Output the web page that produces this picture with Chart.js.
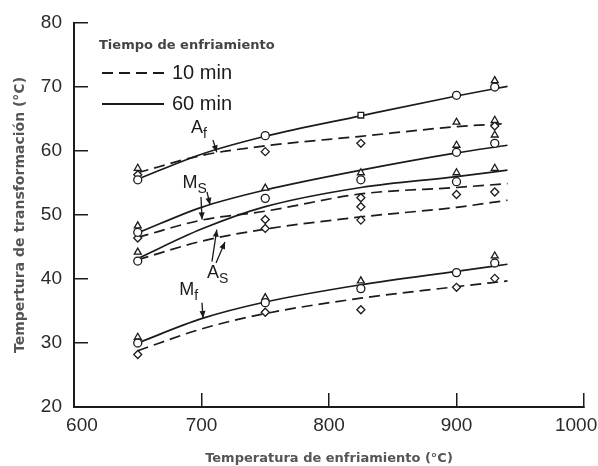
<!DOCTYPE html>
<html>
<head>
<meta charset="utf-8">
<script src="https://cdn.jsdelivr.net/npm/chart.js@4"></script>
<style>
  html, body { margin: 0; padding: 0; background: #fff; }
  #wrap { width: 598px; height: 466px; }
</style>
</head>
<body>
<div id="wrap"><canvas id="grafica" width="598" height="466"></canvas></div>
<script>
// temperaturas de enfriamiento donde se leen las curvas
const curveX = [650, 700, 750, 825, 900, 940];

// 60 min = linea continua, 10 min = linea discontinua
const af60 = [55.6, 59.5, 62.3, 65.5, 68.6, 70.1];
const af10 = [56.6, 59.3, 60.8, 62.3, 63.8, 64.3];
const ms60 = [47.2, 51.2, 53.9, 57.0, 59.7, 60.9];
const ms10 = [46.5, 49.2, 50.6, 53.3, 54.3, 54.9];
const as60 = [43.2, 47.8, 51.3, 54.3, 56.0, 57.0];
const as10 = [43.0, 45.9, 47.8, 49.7, 51.2, 52.3];
const mf60 = [30.0, 33.8, 36.4, 39.1, 41.2, 42.3];
const mf10 = [28.8, 32.2, 34.6, 37.0, 38.8, 39.7];

// puntos medidos (x, y)
const circulos = [[650, 55.5], [750, 62.4], [900, 68.7], [930, 70.0], [650, 47.3], [650, 42.8],
  [750, 52.6], [825, 55.5], [900, 59.8], [900, 55.2], [930, 61.2], [650, 30.0],
  [750, 36.3], [825, 38.5], [900, 41.0], [930, 42.5]];
const triangulos = [[650, 57.3], [930, 71.0], [900, 64.5], [930, 64.8], [650, 48.3], [650, 44.2],
  [750, 54.2], [825, 56.6], [900, 60.9], [900, 56.6], [930, 62.5], [930, 57.3],
  [650, 30.9], [750, 37.1], [825, 39.7], [930, 43.6]];
const rombos = [[650, 56.3], [750, 59.9], [825, 61.2], [930, 63.9], [650, 46.4], [750, 49.3],
  [750, 47.9], [825, 52.7], [825, 51.3], [825, 49.2], [900, 53.2], [930, 53.6],
  [650, 28.2], [750, 34.8], [825, 35.2], [900, 38.7], [930, 40.1]];
const cuadrados = [[825, 65.6]];

const xTicks = [600, 700, 800, 900, 1000];
const yTicks = [20, 30, 40, 50, 60, 70, 80];

const tinta = "#1b1b1b";
const guion = [11, 6];
const letra = "'Liberation Sans', Arial, sans-serif";
const letraTitulo = "'DejaVu Sans', sans-serif";

function serie(ys) {
  return ys.map((y, i) => ({ x: curveX[i], y: y }));
}

function curva(ys, dashed) {
  return {
    data: serie(ys),
    showLine: true,
    borderColor: tinta,
    borderWidth: 1.7,
    borderDash: dashed ? guion : [],
    pointRadius: 0,
    tension: 0.4,
    cubicInterpolationMode: "monotone",
    order: 2,
  };
}

function marcas(pts, estilo) {
  return {
    data: pts.map((p) => ({ x: p[0], y: p[1] })),
    pointStyle: estilo,
    pointRadius: 4,
    pointBorderWidth: 1.3,
    pointBorderColor: tinta,
    pointBackgroundColor: "#fff",
    showLine: false,
    order: 1,
  };
}

// notas A_f, M_s, A_s, M_f y flechas, en coordenadas de datos
const notas = [
  { t: "A", s: "f", x: 696.5, y: 63.6 },
  { t: "M", s: "S", x: 691, y: 55.0 },
  { t: "A", s: "S", x: 709, y: 40.9 },
  { t: "M", s: "f", x: 688.5, y: 38.2 },
];
const flechas = [
  [709, 61.7, 712, 59.8],
  [704.3, 53.6, 706.7, 51.6],
  [699.6, 52.8, 700.4, 49.3],
  [708.2, 42.7, 712.0, 47.7],
  [711.4, 42.5, 718.4, 45.8],
  [700.4, 36.3, 701.2, 33.9],
];

const extras = {
  id: "extras",
  afterDatasetsDraw(chart) {
    const ctx = chart.ctx;
    const sx = chart.scales.x;
    const sy = chart.scales.y;
    ctx.save();
    ctx.fillStyle = tinta;
    ctx.strokeStyle = tinta;

    // notas
    notas.forEach((n) => {
      const px = sx.getPixelForValue(n.x);
      const py = sy.getPixelForValue(n.y);
      ctx.font = "18px " + letra;
      ctx.textAlign = "center";
      ctx.textBaseline = "middle";
      ctx.fillText(n.t, px, py);
      const w = ctx.measureText(n.t).width;
      ctx.font = "14px " + letra;
      ctx.textAlign = "left";
      ctx.fillText(n.s, px + w / 2, py + 6);
    });

    // flechas
    flechas.forEach((f) => {
      const x1 = sx.getPixelForValue(f[0]);
      const y1 = sy.getPixelForValue(f[1]);
      const x2 = sx.getPixelForValue(f[2]);
      const y2 = sy.getPixelForValue(f[3]);
      const ang = Math.atan2(y2 - y1, x2 - x1);
      ctx.lineWidth = 1.3;
      ctx.beginPath();
      ctx.moveTo(x1, y1);
      ctx.lineTo(x2, y2);
      ctx.stroke();
      ctx.beginPath();
      ctx.moveTo(x2, y2);
      ctx.lineTo(x2 - 7 * Math.cos(ang) + 3 * Math.sin(ang), y2 - 7 * Math.sin(ang) - 3 * Math.cos(ang));
      ctx.lineTo(x2 - 7 * Math.cos(ang) - 3 * Math.sin(ang), y2 - 7 * Math.sin(ang) + 3 * Math.cos(ang));
      ctx.closePath();
      ctx.fill();
    });

    // leyenda
    const l = chart.chartArea.left;
    const t = chart.chartArea.top;
    ctx.fillStyle = "#444";
    ctx.font = "bold 13px " + letraTitulo;
    ctx.textAlign = "left";
    ctx.textBaseline = "middle";
    ctx.fillText("Tiempo de enfriamiento", l + 25, t + 23);

    ctx.lineWidth = 1.8;
    ctx.strokeStyle = tinta;
    ctx.setLineDash(guion);
    ctx.beginPath();
    ctx.moveTo(l + 28, t + 50);
    ctx.lineTo(l + 90, t + 50);
    ctx.stroke();
    ctx.setLineDash([]);
    ctx.beginPath();
    ctx.moveTo(l + 28, t + 81);
    ctx.lineTo(l + 90, t + 81);
    ctx.stroke();

    ctx.fillStyle = tinta;
    ctx.font = "20px " + letra;
    ctx.fillText("10 min", l + 98, t + 50);
    ctx.fillText("60 min", l + 98, t + 81);
    ctx.restore();
  },
};

new Chart(document.getElementById("grafica"), {
  type: "scatter",
  data: {
    datasets: [
      curva(af60, false), curva(af10, true),
      curva(ms60, false), curva(ms10, true),
      curva(as60, false), curva(as10, true),
      curva(mf60, false), curva(mf10, true),
      marcas(circulos, "circle"),
      marcas(triangulos, "triangle"),
      marcas(rombos, "rectRot"),
      marcas(cuadrados, "rect"),
    ],
  },
  options: {
    responsive: false,
    animation: false,
    layout: { padding: { top: 23, right: 14, left: 0, bottom: 0 } },
    plugins: { legend: { display: false }, tooltip: { enabled: false } },
    scales: {
      x: {
        type: "linear",
        min: 600,
        max: 1000,
        afterBuildTicks: (s) => { s.ticks = xTicks.map((v) => ({ value: v })); },
        afterFit: (s) => { s.height = 59; s.paddingLeft = 0; s.paddingRight = 0; },
        border: { color: tinta, width: 2 },
        grid: { drawOnChartArea: false, tickLength: -14, color: tinta, lineWidth: 1.5 },
        ticks: {
          color: "#2a2a2a",
          padding: 21,
          maxRotation: 0,
          // los extremos van corridos hacia dentro, como en el original
          callback: (v) => (v === 600 ? "   600" : v === 1000 ? "1000   " : String(v)),
          font: { family: letra, size: 19 },
        },
        title: {
          display: true,
          text: "Temperatura de enfriamiento (°C)",
          color: "#555",
          padding: { top: 0, bottom: 0 },
          font: { family: letraTitulo, size: 13, weight: "bold" },
        },
      },
      y: {
        min: 20,
        max: 80,
        afterBuildTicks: (s) => { s.ticks = yTicks.map((v) => ({ value: v })); },
        afterFit: (s) => { s.width = 74; s.paddingTop = 0; s.paddingBottom = 0; },
        border: { color: tinta, width: 2 },
        grid: { drawOnChartArea: false, tickLength: -14, color: tinta, lineWidth: 1.5 },
        ticks: {
          color: "#2a2a2a",
          padding: 26,
          font: { family: letra, size: 19 },
        },
        title: {
          display: true,
          text: "Tempertura de transformación (°C)",
          color: "#555",
          padding: { top: 12, bottom: 0 },
          font: { family: letraTitulo, size: 14, weight: "bold" },
        },
      },
    },
  },
  plugins: [extras],
});
</script>
</body>
</html>
